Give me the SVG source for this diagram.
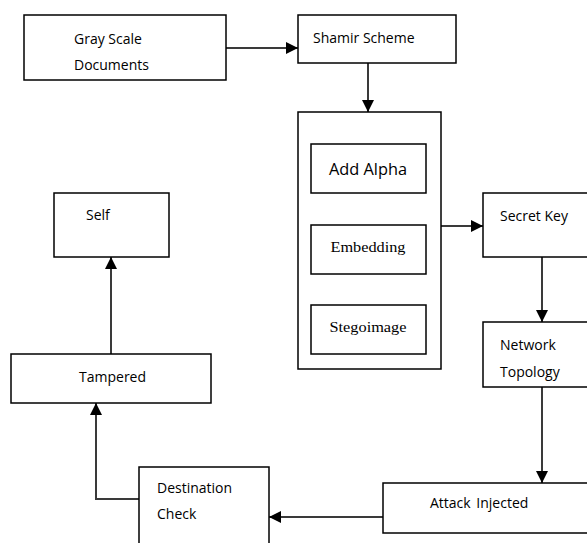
<svg xmlns="http://www.w3.org/2000/svg" width="587" height="543" viewBox="0 0 587 543">
<style>
.box{fill:#fff;stroke:#000;stroke-width:1.5}
.t{font-family:"Open Sans","Noto Sans",sans-serif;font-size:14px;fill:#000}
.s{font-family:"Liberation Serif",serif;font-size:15px;fill:#000}
.c{fill:none;stroke:#3a3a3a;stroke-width:2}
</style>
<defs>
<marker id="ah" viewBox="0 0 10 10" refX="10" refY="5" markerWidth="6" markerHeight="6" orient="auto" markerUnits="strokeWidth">
<path d="M0,0L10,5L0,10z" fill="#000"/>
</marker>
</defs>
<rect width="587" height="543" fill="#fff"/>
<g id="connectors">
<path class="c" d="M226,48H298" marker-end="url(#ah)"/>
<path class="c" d="M368,63V112" marker-end="url(#ah)"/>
<path class="c" d="M441,226H483" marker-end="url(#ah)"/>
<path class="c" d="M542,257V322" marker-end="url(#ah)"/>
<path class="c" d="M542,387V483" marker-end="url(#ah)"/>
<path class="c" d="M383,517H269" marker-end="url(#ah)"/>
<path class="c" d="M139,499H96V403" marker-end="url(#ah)"/>
<path class="c" d="M111,354V257" marker-end="url(#ah)"/>
</g>
<g id="gray-scale"><rect class="box" x="24" y="15" width="202" height="65"/><text class="t" x="74" y="44">Gray Scale</text><text class="t" x="74" y="70">Documents</text></g>
<g id="shamir"><rect class="box" x="298" y="15" width="158" height="48"/><text class="t" x="313" y="43">Shamir Scheme</text></g>
<g id="group-box"><rect class="box" x="298" y="112" width="143" height="257"/></g>
<g id="add-alpha"><rect class="box" x="311" y="144" width="115" height="49"/><text class="t" x="368" y="175" text-anchor="middle" style="font-size:16px" textLength="78" lengthAdjust="spacingAndGlyphs">Add Alpha</text></g>
<g id="embedding"><rect class="box" x="311" y="225" width="115" height="49"/><text class="s" x="368" y="252" text-anchor="middle" textLength="75" lengthAdjust="spacingAndGlyphs">Embedding</text></g>
<g id="stegoimage"><rect class="box" x="311" y="305" width="115" height="49"/><text class="s" x="368" y="332" text-anchor="middle" textLength="77" lengthAdjust="spacingAndGlyphs">Stegoimage</text></g>
<g id="secret-key"><rect class="box" x="483" y="193" width="110" height="64"/><text class="t" x="500" y="221">Secret Key</text></g>
<g id="network"><rect class="box" x="483" y="322" width="110" height="65"/><text class="t" x="500" y="350">Network</text><text class="t" x="500" y="377">Topology</text></g>
<g id="attack"><rect class="box" x="383" y="483" width="210" height="50"/><text class="t" x="430" y="508" style="word-spacing:2px">Attack Injected</text></g>
<g id="destination"><rect class="box" x="139" y="467" width="130" height="90"/><text class="t" x="157" y="493">Destination</text><text class="t" x="157" y="519">Check</text></g>
<g id="tampered"><rect class="box" x="11" y="354" width="200" height="49"/><text class="t" x="79" y="382">Tampered</text></g>
<g id="self"><rect class="box" x="54" y="193" width="115" height="64"/><text class="t" x="86" y="220">Self</text></g>
</svg>
